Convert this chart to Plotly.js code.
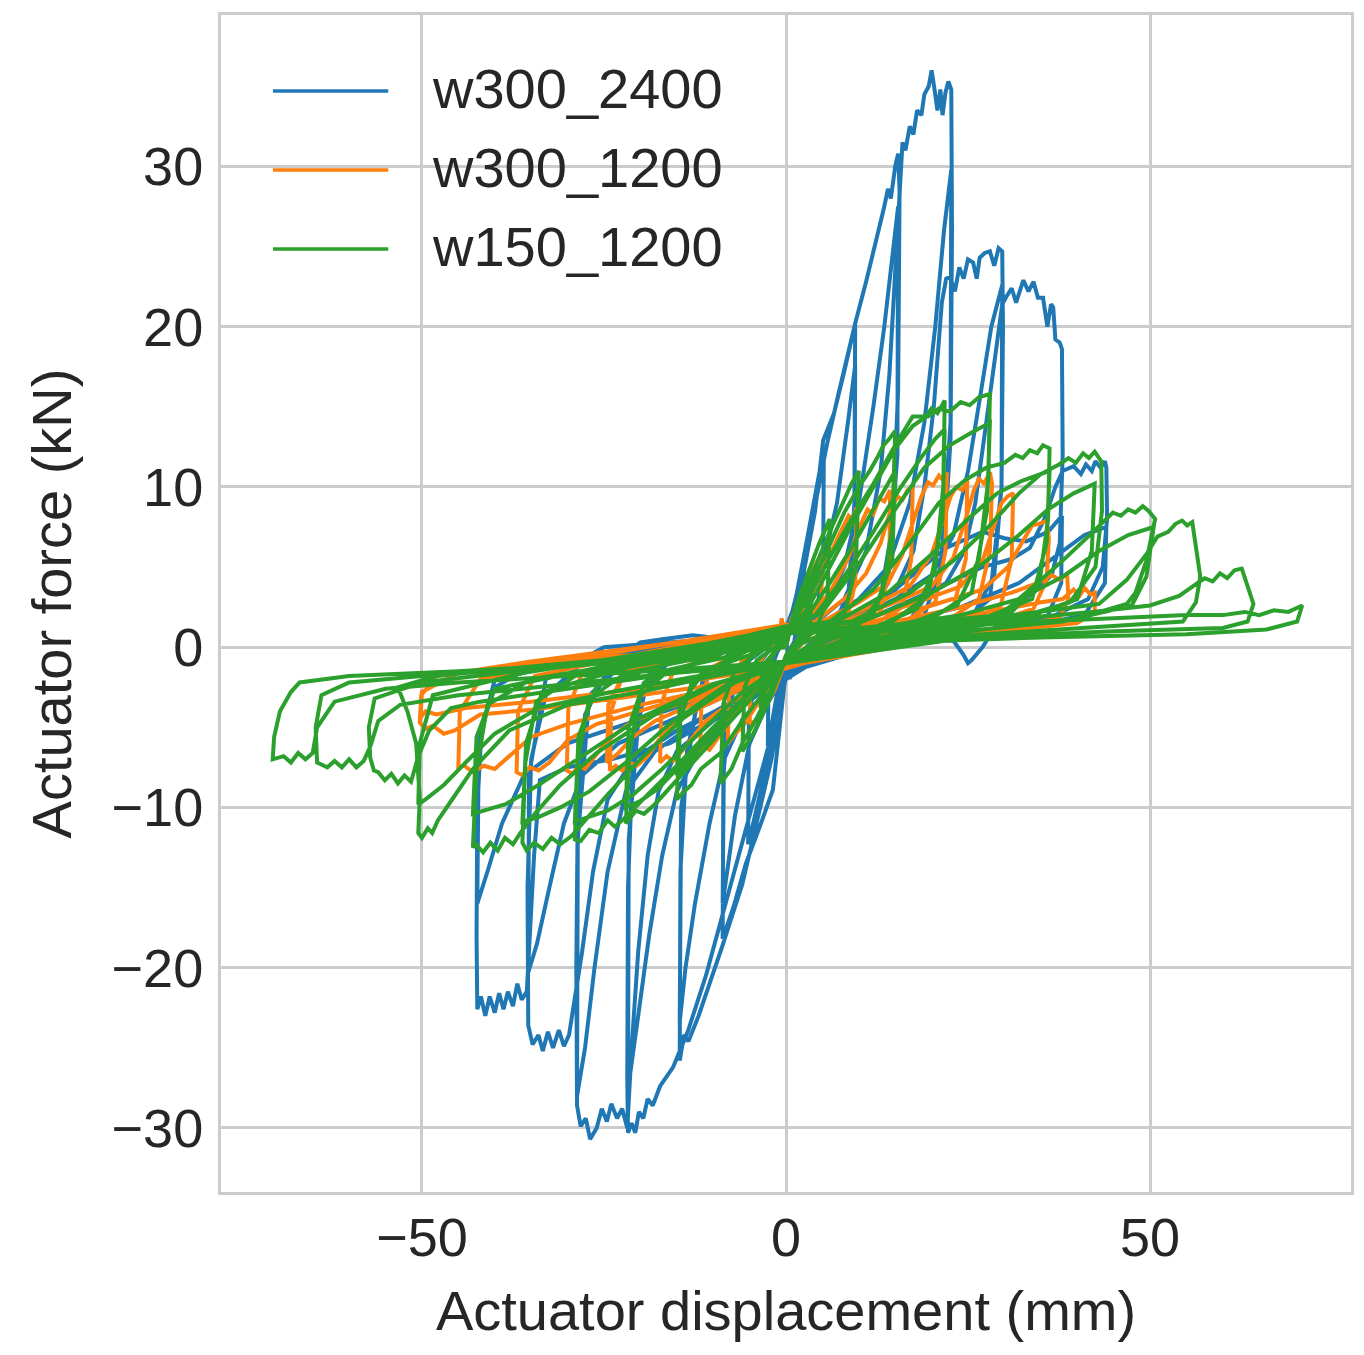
<!DOCTYPE html>
<html>
<head>
<meta charset="utf-8">
<script src="https://cdn.plot.ly/plotly-3.0.1.min.js"></script>
<style>
html,body{margin:0;padding:0;background:#ffffff;}
#chart{width:1364px;height:1355px;}
</style>
</head>
<body>
<div id="chart"></div>
<script>
// Legend labels / series names
const seriesNames = ["w300_2400", "w300_1200", "w150_1200"];
const seriesColors = ["#1f77b4", "#ff7f0e", "#2ca02c"];

// Axis ticks
const xTickVals = [-50, 0, 50];
const yTickVals = [-30, -20, -10, 0, 10, 20, 30];

// w300_2400 : [displacement (mm), force (kN)]
const blueLoops = [
[0,0],[1.2,2.6],[2.5,5.8],[2.4,1.8],[1.2,0.4],[0,-0.6],[-1.2,-2.8],[-2.5,-6.2],[-2.4,-1.8],[-1.2,-0.3],[0,0.6],
[1.5,3.4],[3,7],[4.2,9.8],[5.2,12.4],[5.1,5],[4,1.5],[2,0.2],[0,-1.2],[-1.5,-4.6],[-3,-8],[-4.3,-10.6],[-5.2,-12.3],[-5.1,-4.5],[-4,-1.2],[-2,0],[0,1],
[0.5,-2],[2.2,4.2],[3.8,8.4],[5.6,12.6],[7.2,15.8],[8.5,18.4],[9.5,20.2],[9.4,9],[8.6,3.5],[6.5,1.2],[3,0.1],[0,-1.4],[-1.8,-8.9],[-3.6,-11.2],[-5.5,-13.5],[-7.2,-16.2],[-8.7,-18.2],[-8.6,-8],[-7.6,-2.8],[-5,-0.8],[-2,0.2],[0,1],
[2.5,2.5],[5,5],[7,9],[8.5,14],[9.5,17.6],[9.4,6],[8,1.8],[4,0],[0,-1.5],[-2.5,-3.5],[-5,-6],[-7,-10.5],[-8.7,-16],[-8.5,-5.5],[-6.5,-1.2],[-3,0.2],[0,1.2],
[2,3.6],[4,8.5],[5.1,12.9],[6.6,14.6],[8,17.2],[9.5,20.2],[11,22.8],[12.5,25.5],[13.5,27.5],[14,28.6],[14.4,28],[15,30],[15.4,30.8],[15.6,28.5],[15.4,16],[14.6,7.5],[13,3.2],[10,1.5],[6,0.5],[2,-0.4],[0,-1.8],[-2,-7],[-4,-11],[-6,-14.8],[-8.7,-18.6],[-10.2,-20.6],[-12,-23],[-13.4,-24.6],[-14,-24.2],[-14.6,-25.8],[-14.5,-14],[-13.6,-6.5],[-11.5,-2.2],[-7,-0.5],[-3,0.3],[0,1],
[3,1.5],[6,3],[8,5],[10,9],[12,15],[13.5,20],[14.8,25],[15.4,27.5],[15.3,12],[14,4],[10,1],[4,0],[0,-1.6],[-3,-3],[-6,-4.5],[-8.5,-7],[-10.5,-11],[-12.5,-16],[-13.8,-20],[-14.6,-23.4],[-14.4,-10],[-12,-2.6],[-7,0],[0,1],
[4,1.5],[8,3],[11,6],[13,11],[14.2,17],[15,23],[15.4,27],[16,31.5],[16.4,31],[17,32.5],[17.5,32],[18,33.5],[18.6,33.2],[19,34.5],[19.6,35],[20,36],[20.4,34.8],[20.8,33.5],[21.2,34.8],[21.5,33.2],[21.9,34.6],[22.3,35.3],[22.7,34.8],[22.8,26],[22.6,13],[21.6,5.5],[19,2],[14,0.8],[8,0],[3,-0.6],[0,-1.8],[-2,-5.5],[-5,-10.5],[-8,-15.5],[-11,-20.5],[-13.5,-24],[-15.5,-26.2],[-17.3,-27.4],[-18.3,-28.6],[-19,-28.2],[-19.6,-29.4],[-20.2,-29],[-20.7,-30.3],[-21.2,-29.7],[-21.7,-30.3],[-21.8,-27],[-21.7,-15],[-21,-6.5],[-19,-1.8],[-14,-0.2],[-8,0.4],[0,1.4],
[5,1.5],[10,3],[14,5],[17,9],[19,14],[20.5,20],[21.7,26],[22.7,29.8],[22.6,14],[21.2,4.5],[16,1],[8,0],[0,-1.6],[-4,-3],[-8,-4.5],[-12,-6.5],[-15,-9],[-17,-13],[-18.8,-18],[-20.3,-23],[-21.7,-27.6],[-21.6,-12],[-20,-3],[-14,0.2],[-5,0.5],[0,1],
[5,1],[10,2],[15,3.5],[17.5,6],[19,10],[20.3,15],[21,19],[21.4,21.5],[22,23],[22.5,23.1],[23.2,22.2],[23.8,23.7],[24.4,23],[25,24.2],[25.7,24],[26.2,23],[26.6,24.3],[27.3,24.6],[28,24.7],[28.6,23.8],[29.2,24.9],[29.7,24.7],[29.8,20],[29.6,10],[28.6,4.5],[25.5,1.8],[18,0.6],[10,0],[3,-0.8],[0,-2],[-5,-3.2],[-10,-4.6],[-15,-6.5],[-17.5,-9],[-19,-13],[-20.3,-19],[-21.2,-25],[-21.8,-30],[-22.5,-28.8],[-23.2,-29.4],[-24,-28.5],[-24.6,-29.6],[-25.3,-28.8],[-26,-30],[-26.9,-30.7],[-27.5,-29.4],[-28.2,-29.9],[-28.7,-28.6],[-28.8,-20],[-28.6,-10],[-27.6,-4.2],[-24,-1],[-16,0],[-8,0.4],[0,1],
[8,1.5],[15,3],[20,4.5],[23,7],[25,11],[26.8,16],[28.2,20],[29.7,22.6],[29.6,10],[28,3],[22,0.8],[12,0],[0,-1.6],[-6,-3],[-12,-4.6],[-18,-6.5],[-22,-9],[-24.5,-14],[-26.3,-20],[-27.6,-25],[-28.7,-28],[-28.6,-12],[-27,-3],[-20,0],[-10,0.5],[0,1],
[10,1.5],[18,3],[22,4],[24.5,6],[26,9],[27.5,14],[28.8,18.5],[29.7,21.4],[30.3,21.9],[31,22.4],[31.6,21.5],[32.6,22.9],[33.3,22.2],[34,22.8],[34.6,21.8],[35.3,21.8],[35.9,20],[36.4,21.4],[36.7,21.2],[37,19.2],[37.6,19],[37.9,18.6],[38,12],[37.6,6.5],[36.5,4.5],[34,3.4],[30,2.2],[27,0],[25.5,-0.8],[25,-1],[24.4,-0.5],[23,0.4],[16,0.5],[6,-0.3],[0,-2],[-8,-3.6],[-15,-5.2],[-21,-7],[-24.5,-9.5],[-26.5,-14],[-28,-19],[-29.3,-23],[-29.8,-24.2],[-30.5,-24.9],[-31.2,-23.9],[-32,-25],[-32.7,-24],[-33.4,-25.2],[-34,-24.2],[-34.8,-24.8],[-35.4,-23.6],[-35.5,-15],[-35,-7],[-33,-3],[-28,-1],[-22,-0.3],[-20,0.3],[-17,0.5],[-15,0.6],[-12.8,0.75],[-11,0.65],[-9.5,0.6],[-8.8,-0.1],[-5,0],[0,0.8],
[8,1.5],[15,3.6],[22,6.2],[27,7.2],[30,6.8],[33,6.6],[36,7.2],[37.9,8.2],[37.8,4],[36,2],[30,1],[20,0.3],[10,0],[0,-1.6],[-8,-3],[-16,-4.6],[-23,-6],[-28,-8],[-30.5,-11],[-32.5,-15],[-34.2,-18.5],[-35.4,-20.3],[-35.3,-8],[-33,-2],[-25,0],[-10,0.5],[0,1],
[10,1.5],[20,3.5],[27,5],[31,5.5],[33.5,6.2],[35.5,8],[37,10],[38,11],[39.5,11.3],[40.5,10.8],[41.2,11.4],[42,11],[42.5,11.6],[43.2,11.2],[43.8,11.6],[44,11.2],[44.1,8],[43.5,5],[41.5,3],[37,2],[28,1],[18,0.5],[8,0],[0,-1.6],[-8,-4],[-16,-6],[-24,-7],[-30,-7.5],[-32.5,-8],[-33.8,-8.3],[-34.6,-13],[-35.2,-18],[-35.6,-21.5],[-36.3,-22],[-36.9,-21],[-37.5,-22.4],[-38.2,-21.5],[-38.8,-22.6],[-39.4,-21.6],[-40,-22.8],[-40.7,-21.8],[-41.3,-23],[-41.9,-21.8],[-42.4,-22.6],[-42.5,-18],[-42.4,-10],[-41.8,-5],[-40,-2.5],[-35,-1.2],[-25,-0.5],[-15,0],[0,1],
[12,1.2],[24,2.5],[32,4],[38,6],[41,7],[44,7.5],[43.8,4],[41,2],[30,1],[10,0],[0,-1.5],[-10,-3],[-20,-4.5],[-30,-6],[-36,-8],[-39,-11],[-41,-14],[-42.4,-16],[-42.2,-6],[-40,-2],[-25,-0.5],[0,0.8]
];

// w300_1200
const orangeLoops = [
[0,0],[0.8,1.8],[1.6,2.6],[2.5,3.2],[2.3,1],[1,0],[0,-0.6],[-1.2,-2],[-2.5,-3.2],[-2.3,-1],[-1,0.3],[-0.6,1.8],[0,0.6],
[1.5,2.5],[3,4.2],[4.2,5.3],[5,5.8],[4.8,2],[3,0.6],[0,-0.8],[-1.5,-2.6],[-3,-3.9],[-4.2,-4.6],[-5,-4.8],[-4.8,-1.8],[-3,-0.5],[0,0.8],
[2,2],[4,3.8],[6,5.8],[7.5,7.2],[8.6,8.2],[9.1,8],[9.7,8.7],[9.5,4],[8.5,2],[6,1],[2,0.2],[0,-0.8],[-2,-2.2],[-4,-3.6],[-6,-5],[-7,-5.4],[-8,-6],[-7.8,-2.5],[-6,-0.8],[-3,0],[0,1],
[3,1.8],[6,3.4],[8.5,5.5],[10,7.4],[11.2,8.6],[12,8.3],[12.8,9.3],[13.5,9.1],[14.3,9.8],[14.2,5],[13,2.2],[10,1.2],[5,0.4],[0,-0.9],[-3,-2.3],[-6,-3.6],[-8,-4.8],[-9.5,-5.8],[-10.5,-6.4],[-11.2,-6.2],[-11.8,-6.6],[-11.6,-3],[-10,-1.2],[-6,-0.3],[0,1.2],
[4,1.6],[8,3],[11,4.6],[13,6.5],[14.4,8.6],[15.3,9.4],[16,9.2],[16.7,9.8],[17.4,10],[17.2,5.5],[16,2.5],[12,1.4],[6,0.6],[0,-1],[-4,-2.4],[-8,-3.6],[-11,-4.6],[-13,-5.8],[-14.5,-6.6],[-15.5,-7.1],[-16.4,-6.8],[-17.3,-7.2],[-17.1,-3.5],[-15.5,-1.5],[-10,-0.5],[0,1.2],
[5,1.6],[10,2.8],[14,4],[16,5.8],[17.6,8],[18.6,9.4],[19.5,10.3],[20.2,10.1],[21,10.7],[21.6,10.4],[22.1,10.9],[21.9,6],[20.5,2.8],[16,1.5],[8,0.6],[0,-1.1],[-6,-2.6],[-11,-3.6],[-15,-4.6],[-17.5,-5.8],[-19,-6.8],[-20.5,-7.4],[-21.5,-7.2],[-22.5,-7.7],[-23.4,-7.4],[-24.2,-7.7],[-24,-4],[-22.5,-1.8],[-15,-0.6],[0,1.3],
[6,1.5],[12,2.6],[17,3.8],[20,5.8],[21.5,7.8],[22.6,9.4],[23.4,10],[24.2,9.8],[24.9,10.4],[24.7,5.5],[23,2.5],[17,1.4],[8,0.5],[0,-1.2],[-7,-2.6],[-13,-3.6],[-18,-4.6],[-21,-5.6],[-23,-6.6],[-24.6,-7.2],[-24.4,-3.6],[-22,-1.4],[-12,-0.4],[0,1.3],
[8,1.6],[15,2.8],[20,3.8],[23,5.6],[24.8,8.2],[25.8,9.8],[26.5,10.5],[27.2,10.2],[28,10.9],[28.3,10.2],[28,6],[26.5,3],[22,1.6],[12,0.6],[0,-1.2],[-8,-2.6],[-15,-3.6],[-21,-4.6],[-24.5,-5.8],[-26.5,-7],[-27.6,-7.6],[-28.5,-7.4],[-29.3,-7.9],[-30.1,-7.7],[-29.9,-3.8],[-28,-1.6],[-18,-0.6],[0,1.4],
[10,1.6],[18,2.8],[24,3.8],[27,5.4],[28.6,7.6],[29.6,9],[30.4,9.4],[31.2,9.6],[31,5.5],[29.5,2.6],[25,1.6],[14,0.6],[0,-1.3],[-9,-2.6],[-18,-3.7],[-26,-4.8],[-30,-5.8],[-32.5,-7.2],[-34,-7.7],[-35.2,-7.5],[-36.2,-8],[-37,-7.8],[-36.8,-4],[-34.5,-1.8],[-22,-0.6],[0,1.4],
[12,1.6],[20,2.6],[27,3.6],[30.5,5],[32.5,6.6],[33.8,7.6],[34.8,7.7],[35.8,7.9],[36.1,6.8],[35.8,4.2],[34,2.4],[28,1.5],[15,0.6],[0,-1.3],[-10,-2.6],[-20,-3.6],[-30,-4.8],[-35,-5.6],[-38,-6.8],[-40,-7.6],[-41.5,-7.4],[-43,-7.8],[-44.2,-7.4],[-45,-7.5],[-44.8,-4],[-42,-2],[-30,-0.8],[0,1.4],
[14,1.5],[24,2.5],[31,3.4],[34.5,4],[36.5,4.5],[37.6,4.2],[38.6,4.6],[38.8,3],[37.5,1.8],[30,1.2],[15,0.5],[0,-1.3],[-12,-2.5],[-25,-3.3],[-35,-3.9],[-42,-4.2],[-45.5,-5.2],[-47,-5.4],[-48.5,-4.9],[-49.5,-5.1],[-50.3,-4.7],[-50.1,-3],[-48,-1.8],[-35,-0.9],[0,1.2],
[16,1.4],[28,2.2],[35,2.8],[38,3],[39.5,3.6],[40.3,3.2],[41,3.7],[41.8,3.3],[42.4,3.4],[42.4,2.2],[40,1.5],[25,0.8],[0,-1.2],[-20,-2.6],[-35,-3.4],[-44,-3.8],[-48,-4.2],[-49.5,-4],[-50.2,-4.4],[-50,-2.8],[-45,-1.6],[-25,-0.6],[0,0]
];

// w150_1200
const greenLoops = [
[0,0],[1,2],[2,3.4],[3,4.5],[2.8,1.5],[1.5,0.4],[0,-0.5],[-1,-1.8],[-2,-3],[-3,-4],[-2.8,-1.4],[-1.5,-0.3],[0,0.5],
[1,1.5],[2,2.6],[3.5,3.8],[3.3,1.2],[1,0],[0,-0.6],[-1.5,-2.2],[-3.5,-3.8],[-3.3,-1.2],[-1,0],[0,0.5],
[1.5,2.6],[3,4.6],[4.5,6.4],[6,8],[5.7,3],[4,1],[1.5,0.2],[0,-0.7],[-1.5,-2.4],[-3,-4],[-4.5,-5.4],[-6,-6.5],[-5.7,-2.5],[-4,-0.8],[-1.5,0],[0,0.7],
[2,2.8],[4,5],[6,7.2],[8,9.2],[9,10.2],[10,11],[9.6,5],[8,2],[5,0.8],[2,0.2],[0,-0.8],[-2,-2.6],[-4,-4.4],[-6,-6],[-7.5,-7.6],[-9,-8.5],[-8.6,-3.5],[-7,-1.4],[-4,-0.4],[0,0.8],
[2,2.4],[4,4.4],[6,6.4],[8,8.4],[10,10],[11.5,11],[12.5,11.8],[13.4,12.6],[14.2,13],[15,13.5],[14.6,7.5],[13.2,3.2],[10,1.4],[5,0.6],[0,-0.8],[-3,-2.8],[-6,-4.6],[-9,-6.6],[-11.7,-7.6],[-13,-8.6],[-14,-9],[-15,-9.5],[-14.5,-4.5],[-12.8,-2],[-8,-0.8],[0,0.9],
[3,2],[6,4],[9,6.2],[12,8.6],[15,11],[14.6,5.5],[12,2],[6,0.6],[0,-0.8],[-4,-2.4],[-8,-4.4],[-12,-6.4],[-15,-8],[-14.6,-3.6],[-11,-1.4],[-5,-0.5],[0,0.9],
[3,2.4],[6,5],[9,7.6],[12,10],[15,12.4],[17.4,13.8],[19,14.3],[20,14.9],[20.8,14.6],[21.8,15.4],[21.6,10],[20.5,5],[18,2.4],[12,1.2],[5,0.4],[0,-0.9],[-4,-2.8],[-8,-4.8],[-12,-6.8],[-15.5,-8.6],[-18,-9.8],[-19.5,-10.4],[-20.6,-10.2],[-22,-11],[-21.5,-6.5],[-20,-3],[-16,-1.4],[-8,-0.6],[0,1],
[4,2],[8,4.4],[12,7.2],[15.5,9.8],[18.5,11.8],[20.5,13],[21.8,13.6],[21.5,8],[19.5,3.2],[14,1.4],[6,0.5],[0,-1],[-5,-2.8],[-10,-5.2],[-14,-7.2],[-17.5,-8.8],[-20,-9.6],[-22,-10],[-21.6,-5],[-19.5,-2.2],[-12,-0.9],[0,1],
[3,3],[6,5.6],[9,8],[12,10.2],[15,12.6],[17.4,14.4],[19.5,14.4],[21,14.9],[22.5,14.7],[24,15.3],[25.2,15.1],[26.5,15.6],[28,15.8],[27.8,10.5],[26.5,5.5],[23.5,2.6],[16,1.3],[8,0.5],[0,-1],[-5,-2.8],[-10,-5],[-15,-7.4],[-19,-9.2],[-22,-10.6],[-23.5,-11.2],[-24.5,-10.8],[-25.7,-11.6],[-27,-11.4],[-28.2,-12.1],[-29,-12],[-28.6,-7],[-27,-3.2],[-22,-1.6],[-12,-0.7],[0,1.1],
[5,2.2],[10,5.2],[15,8.6],[19,11.2],[22.5,12.6],[25.5,13.4],[28,14],[27.6,8.5],[25.5,3.4],[19,1.5],[9,0.5],[0,-1],[-6,-2.8],[-12,-5.4],[-17,-7.6],[-21,-9.2],[-24.5,-10.2],[-27.2,-10.6],[-29,-10.9],[-28.5,-5.6],[-26,-2.4],[-16,-1],[0,1.1],
[6,1.6],[12,3.6],[17,6.5],[21,9],[24.5,10.4],[27.5,11.2],[30,11.5],[31.5,12],[32.5,11.8],[33.5,12.3],[34.5,12.1],[35.3,12.6],[36.2,12.4],[36,8],[34.8,4],[31,2.2],[22,1.3],[10,0.4],[0,-1],[-7,-2.2],[-14,-4.4],[-20,-7],[-24.5,-9.2],[-27.5,-10.8],[-29.5,-11.8],[-31,-12.3],[-32.2,-11.9],[-33.4,-12.6],[-34.6,-12.2],[-35.6,-12.7],[-36.2,-12.2],[-35.8,-7.2],[-34.3,-3.4],[-29,-1.8],[-16,-0.8],[0,1.2],
[7,1.6],[14,3.4],[20,5.8],[25,8],[29,9.6],[32.5,10.4],[36.2,11],[35.8,6.5],[33.8,3],[26,1.6],[12,0.5],[0,-1],[-8,-2.3],[-16,-4.8],[-22,-7.2],[-27,-9],[-31,-10],[-34,-10.6],[-36.2,-10.9],[-35.7,-6],[-33.5,-2.8],[-22,-1.3],[0,1.2],
[9,1.6],[17,3.4],[23,5.4],[28,7.6],[32,9.6],[35,10.8],[37.5,11.4],[38.8,11.8],[39.8,11.5],[40.8,12.1],[41.6,11.8],[42.4,12.2],[43.3,11.6],[43.4,8.5],[42.5,5],[39,2.8],[30,1.6],[15,0.6],[0,-1],[-9,-2.2],[-18,-4.2],[-26,-6.6],[-31,-8.6],[-34.5,-10.4],[-36.5,-11.6],[-37.5,-12.3],[-38.6,-11.9],[-39.6,-12.7],[-40.6,-12.2],[-41.6,-12.8],[-42.6,-12.3],[-43,-12.5],[-42.5,-7.6],[-41,-3.6],[-35,-2],[-20,-0.9],[0,1.3],
[10,1.5],[20,3.4],[27,5.2],[32,7],[36,8.6],[39.5,9.6],[42.4,10.2],[42,6],[40,3],[32,1.7],[15,0.6],[0,-1],[-10,-2.3],[-20,-4.4],[-28,-6.8],[-34,-8.6],[-38.5,-9.8],[-43,-10.4],[-42.5,-5.6],[-40,-2.6],[-26,-1.3],[0,1.2],
[10,1.2],[20,1.6],[29.4,2],[34,3.8],[38,5.4],[41.5,6.9],[44.9,8.4],[46,8.2],[47,8.6],[48,8.4],[49,8.8],[49.8,8.5],[50.7,8],[49.5,5.4],[48,3.4],[46.8,2.7],[40,1.8],[25,1],[10,0.3],[0,-1],[-10,-1.8],[-20,-2.8],[-30,-3.6],[-38,-5.2],[-43,-7.6],[-46,-9.6],[-47.8,-10.8],[-48.6,-11.6],[-49.2,-11.3],[-50,-11.9],[-50.5,-11.6],[-50.3,-9.4],[-50.8,-6],[-52,-4],[-53.3,-2.5],[-48,-1.8],[-35,-1.2],[-20,-0.6],[0,1.2],
[12,1.2],[24,2],[32,3],[38,4.4],[43,6],[47,7],[50.5,7.5],[49.5,4.4],[47.5,2.6],[38,1.6],[20,0.8],[0,-1],[-12,-1.8],[-24,-2.8],[-34,-3.8],[-40,-5.4],[-44,-7.2],[-47,-8.6],[-49.5,-9.5],[-50.5,-9.8],[-50.3,-6],[-48.5,-3],[-36,-1.6],[0,1],
[14,1.2],[28,1.8],[38,2.4],[43,2.7],[46.8,4.2],[49.5,5.8],[51,6.9],[52.5,7.2],[53.5,7.7],[54.4,7.9],[55.1,7.6],[55.8,7.8],[56.9,4.4],[56.3,2.8],[54.5,1.6],[40,1.2],[20,0.6],[0,-1],[-15,-1.6],[-30,-2.6],[-42,-3.4],[-46,-3.8],[-49,-5.2],[-50.5,-6.8],[-51.5,-8.4],[-52.4,-8],[-53.3,-8.5],[-54.2,-7.9],[-55.1,-8.3],[-56,-7.8],[-56.6,-7.7],[-57.1,-6.9],[-57.3,-5],[-56.5,-3.2],[-50,-2.2],[-35,-1.4],[-15,-0.6],[0,1],
[15,1.1],[30,1.7],[42,2.2],[50,2.6],[54,3.2],[56.5,4],[57.5,4.3],[58.6,4.1],[59.6,4.6],[60.6,4.3],[61.6,4.8],[62.6,4.9],[64.2,2.7],[63.4,1.6],[60,1.2],[45,1],[25,0.6],[0,-1],[-15,-1.6],[-30,-2.3],[-45,-3],[-53,-3.6],[-56,-4.6],[-57.1,-6.2],[-58,-7.1],[-59,-7.5],[-60,-7],[-61,-7.5],[-62,-7.1],[-63,-7.5],[-64.4,-7.2],[-64.6,-5],[-63.8,-3],[-60,-2.2],[-45,-1.6],[-25,-0.9],[0,0.9],
[15,1],[30,1.5],[45,1.8],[55,2],[60,2],[63,2.2],[65,2],[67,2.3],[69,2.2],[70.9,2.6],[70.2,1.6],[66,1.1],[55,0.8],[35,0.6],[15,0.3],[0,-0.9],[-15,-1.4],[-30,-1.8],[-45,-2.2],[-55,-2.6],[-62,-3.4],[-64.4,-5],[-65,-6.6],[-66,-7],[-67,-6.6],[-68,-7.2],[-69,-6.8],[-70.5,-7],[-70.3,-5.6],[-69.5,-4],[-68,-2.8],[-66.8,-2.2],[-60,-1.8],[-45,-1.5],[-25,-1],[0,0]
];

const allLoops = [blueLoops, orangeLoops, greenLoops];

const traces = allLoops.map((pts, i) => ({
  type: "scatter",
  mode: "lines",
  name: seriesNames[i],
  x: pts.map(p => p[0]),
  y: pts.map(p => p[1]),
  line: {color: seriesColors[i], width: 4, shape: "linear"},
  showlegend: false,
  hoverinfo: "skip"
}));

const fontFam = "Liberation Sans, Arial, Helvetica, sans-serif";
const txtColor = "#262626";

// custom legend (paper coordinates)
const legY = [0.9354, 0.8683, 0.8012];
const shapes = [];
const annotations = [];
seriesNames.forEach((nm, i) => {
  shapes.push({type: "line", xref: "paper", yref: "paper",
    x0: 0.046, x1: 0.148, y0: legY[i], y1: legY[i],
    line: {color: seriesColors[i], width: 3.5}});
  annotations.push({xref: "paper", yref: "paper", x: 0.185, y: legY[i] + 0.002,
    xanchor: "left", yanchor: "middle", showarrow: false, text: nm,
    font: {family: fontFam, size: 56, color: txtColor}});
});

const layout = {
  width: 1364, height: 1355,
  margin: {l: 221, r: 13, t: 15, b: 163, pad: 0},
  paper_bgcolor: "#ffffff", plot_bgcolor: "#ffffff",
  font: {family: fontFam, color: txtColor, size: 54},
  showlegend: false,
  xaxis: {
    range: [-77.6, 77.6], tickvals: xTickVals,
    showgrid: true, gridcolor: "#cccccc", gridwidth: 3,
    zeroline: false, showline: true, mirror: true, linecolor: "#cccccc", linewidth: 3,
    ticks: "", tickfont: {size: 54, family: fontFam, color: txtColor},
    ticklabelstandoff: -4,
    title: {text: "Actuator displacement (mm)", font: {size: 56, family: fontFam, color: txtColor}, standoff: 26}
  },
  yaxis: {
    range: [-34.0, 39.45], tickvals: yTickVals,
    showgrid: true, gridcolor: "#cccccc", gridwidth: 3,
    zeroline: false, showline: true, mirror: true, linecolor: "#cccccc", linewidth: 3,
    ticks: "", tickfont: {size: 54, family: fontFam, color: txtColor},
    ticklabelstandoff: 4,
    title: {text: "Actuator force (kN)", font: {size: 56, family: fontFam, color: txtColor}, standoff: 22}
  },
  shapes: shapes,
  annotations: annotations
};

Plotly.newPlot("chart", traces, layout, {staticPlot: true, displayModeBar: false});
</script>
</body>
</html>
